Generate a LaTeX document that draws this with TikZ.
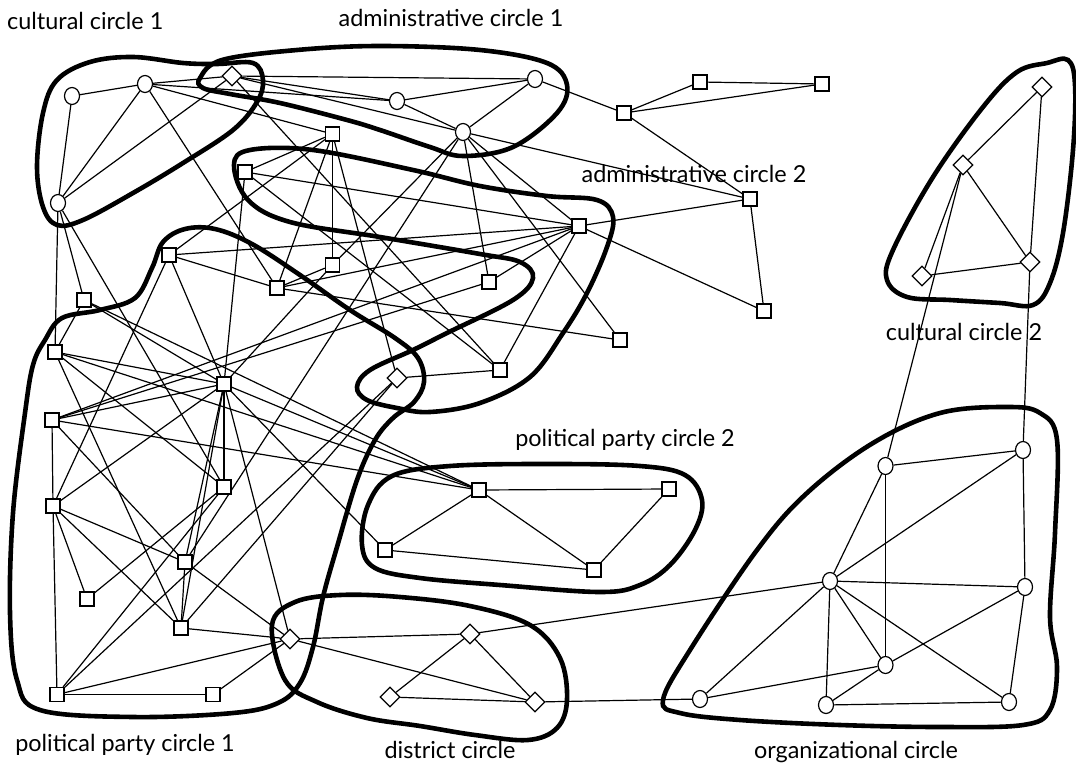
\documentclass[tikz,border=0pt]{standalone}
\usepackage{fontspec}
\setmainfont{Lato}
\usetikzlibrary{shapes.geometric,backgrounds}
\begin{document}
\begin{tikzpicture}[x=1pt,y=-1pt,
 cnode/.style={ellipse,draw,fill=white,line width=1.2pt,minimum width=15pt,minimum height=17pt,inner sep=0pt},
 snode/.style={rectangle,draw,fill=white,line width=1.2pt,minimum size=14pt,inner sep=0pt},
 dnode/.style={diamond,draw,fill=white,line width=1.2pt,minimum width=20pt,minimum height=20pt,inner sep=0pt},
 edge/.style={line width=1.2pt},
 hull/.style={line width=4.6pt},
 lab/.style={font=\fontsize{23.4}{26}\selectfont}
]
\useasboundingbox (0,0) rectangle (1076,771);
% nodes
\node[cnode] (C1a) at (72,96) {};
\node[cnode] (C1b) at (145,84) {};
\node[cnode] (C1c) at (58,203) {};
\node[dnode] (D1) at (232,76) {};
\node[cnode] (A1) at (397,101) {};
\node[cnode] (A2) at (535,79) {};
\node[cnode] (A3) at (463,132) {};
\node[snode] (St1) at (624,113) {};
\node[snode] (St2) at (700,82) {};
\node[snode] (St3) at (822,84) {};
\node[snode] (St4) at (750,199) {};
\node[snode] (St5) at (764,311) {};
\node[snode] (B1) at (332.5,134) {};
\node[snode] (B2) at (245,172) {};
\node[snode] (B3) at (579,226) {};
\node[snode] (B4) at (332.5,265) {};
\node[snode] (B5) at (277,288) {};
\node[snode] (B6) at (489,282) {};
\node[snode] (B7) at (620,340) {};
\node[snode] (B8) at (500,370) {};
\node[dnode] (D2) at (397,378) {};
\node[snode] (P1) at (169,255) {};
\node[snode] (P2) at (84,300) {};
\node[snode] (P3) at (55,352) {};
\node[snode] (P4) at (224,384) {};
\node[snode] (P5) at (52,420) {};
\node[snode] (P6) at (224,487) {};
\node[snode] (P7) at (53,506) {};
\node[snode] (P8) at (185,562) {};
\node[snode] (P9) at (87,599) {};
\node[snode] (P10) at (181,628) {};
\node[snode] (P11) at (57,694.5) {};
\node[snode] (P12) at (213,694.5) {};
\node[dnode] (D3) at (290,639) {};
\node[snode] (Q1) at (479,490) {};
\node[snode] (Q2) at (669,489) {};
\node[snode] (Q3) at (385,550) {};
\node[snode] (Q4) at (594,570) {};
\node[dnode] (D4) at (470,634) {};
\node[dnode] (D5) at (390,697) {};
\node[dnode] (D6) at (535,702) {};
\node[dnode] (E1) at (1042,87) {};
\node[dnode] (E2) at (963,165) {};
\node[dnode] (E3) at (922,276) {};
\node[dnode] (E4) at (1030,262) {};
\node[cnode] (O1) at (885.5,466) {};
\node[cnode] (O2) at (1023,450) {};
\node[cnode] (O3) at (830,581) {};
\node[cnode] (O4) at (1025,587) {};
\node[cnode] (O5) at (885.5,665) {};
\node[cnode] (O6) at (700,699) {};
\node[cnode] (O7) at (826,705) {};
\node[cnode] (O8) at (1009,702) {};
% labels
\node[lab,anchor=west,inner sep=0pt] (L1) at (7,21) {cultural circle 1};
\node[lab] (L2) at (451,18) {administrative circle 1};
\node[lab] (L3) at (694,174) {administrative circle 2};
\node[lab] (L4) at (964,332) {cultural circle 2};
\node[lab] (L5) at (625,440) {political party circle 2};
\node[lab] (L6) at (125,745) {political party circle 1};
\node[lab] (L7) at (450,750) {district circle};
\node[lab] (L8) at (856,752) {organizational circle};
\begin{scope}[on background layer]
\foreach \a/\b in {C1a/C1b,C1a/C1c,C1b/C1c,C1b/D1,C1c/D1,C1b/A1,C1b/B1,C1b/B5,C1c/P3,C1c/P2,C1c/P6,
 D1/A2,D1/A1,D1/A3,D1/B8,A1/A2,A1/A3,A2/A3,A2/St1,
 A3/B3,A3/B6,A3/B7,A3/St4,A3/B4,A3/P8,
 St1/St2,St1/St3,St2/St3,St1/St4,St4/B3,St4/St5,B3/St5,
 B1/B2,B1/B4,B1/B5,B1/P1,B1/D2,B2/B3,B2/P4,B2/B8,
 B3/P1,B3/B5,B3/B6,B3/B8,B3/P5,B4/B5,B4/P4,B5/P1,B5/B7,B6/P5,B8/D2,
 D2/P11,D2/P10,P1/P4,P1/P7,P2/P3,P2/P4,P2/Q1,
 P3/P4,P3/Q1,P3/P6,P3/P10,
 P4/P5,P4/P6,P4/P7,P4/P8,P4/P10,P4/D3,P4/Q1,P4/Q3,
 P5/P7,P5/Q1,P5/P8,P6/P9,P6/P11,
 P7/P8,P7/P9,P7/P10,P7/P11,P8/P10,P8/D3,
 P10/D3,P11/P12,P11/D3,P12/D3,
 D3/D4,D3/D6,D4/D5,D4/D6,D5/D6,D6/O6,D4/O3,
 Q1/Q2,Q1/Q3,Q1/Q4,Q2/Q4,Q3/Q4,
 E1/E2,E1/E4,E2/E3,E2/E4,E3/E4,E2/O1,E4/O2,
 O1/O2,O1/O3,O1/O5,O2/O3,O2/O4,O3/O4,O3/O5,O3/O6,O3/O7,O3/O8,O4/O5,O4/O8,O5/O6,O5/O7,O7/O8}
 {\draw[edge] (\a) -- (\b);}
% hulls
\draw[hull] plot[smooth cycle,tension=0.6] coordinates {(57,80) (90,62) (133,57) (183,63) (217,64) (253,63) (263,80) (257,102) (233,130) (183,163) (133,193) (83,220) (57,225) (43,207) (37,167) (43,113)};
\draw[hull] plot[smooth cycle,tension=0.6] coordinates {(200,78) (222,60) (297,50) (380,46) (480,50) (547,63) (567,85) (557,113) (513,147) (463,156) (430,147) (380,130) (347,120) (280,103) (230,94) (203,88)};
\draw[hull] plot[smooth cycle,tension=0.6] coordinates {(234,165) (250,150) (313,150) (413,170) (480,186) (547,196) (597,200) (613,217) (607,247) (587,293) (563,333) (530,377) (480,403) (430,412) (397,408) (367,400) (357,387) (370,370) (413,350) (447,333) (513,300) (533,278) (520,262) (480,254) (380,237) (290,222) (248,200)};
\draw[hull] plot[smooth cycle,tension=0.6] coordinates {(45,340) (62,318) (100,310) (135,298) (152,268) (163,242) (185,229) (215,229) (252,244) (300,275) (350,310) (395,338) (418,358) (424,382) (414,402) (393,418) (375,440) (357,480) (337,547) (323,597) (313,647) (300,683) (278,703) (233,713) (133,717) (40,710) (17,680) (10,613) (13,513) (25,413) (33,365)};
\draw[hull] plot[smooth cycle,tension=0.6] coordinates {(392,476) (450,466) (550,464) (640,466) (685,475) (702,500) (695,530) (670,565) (640,585) (600,592) (500,585) (420,578) (375,568) (362,545) (368,505)};
\draw[hull] plot[smooth cycle,tension=0.6] coordinates {(272,625) (295,602) (340,595) (400,597) (470,606) (530,625) (560,658) (567,700) (557,728) (528,740) (475,735) (420,726) (367,718) (317,702) (285,680)};
\draw[hull] plot[smooth cycle,tension=0.6] coordinates {(1047,63) (1068,60) (1075,85) (1073,150) (1063,233) (1050,283) (1033,305) (1000,303) (950,300) (907,297) (887,280) (893,250) (933,177) (983,107) (1017,72)};
\draw[hull] plot[smooth cycle,tension=0.6] coordinates {(663,700) (690,650) (757,550) (807,493) (873,443) (940,413) (1007,407) (1040,413) (1057,440) (1055,533) (1050,617) (1057,667) (1050,710) (1023,725) (940,727) (840,725) (740,720) (680,713)};
\end{scope}
\end{tikzpicture}
\end{document}
